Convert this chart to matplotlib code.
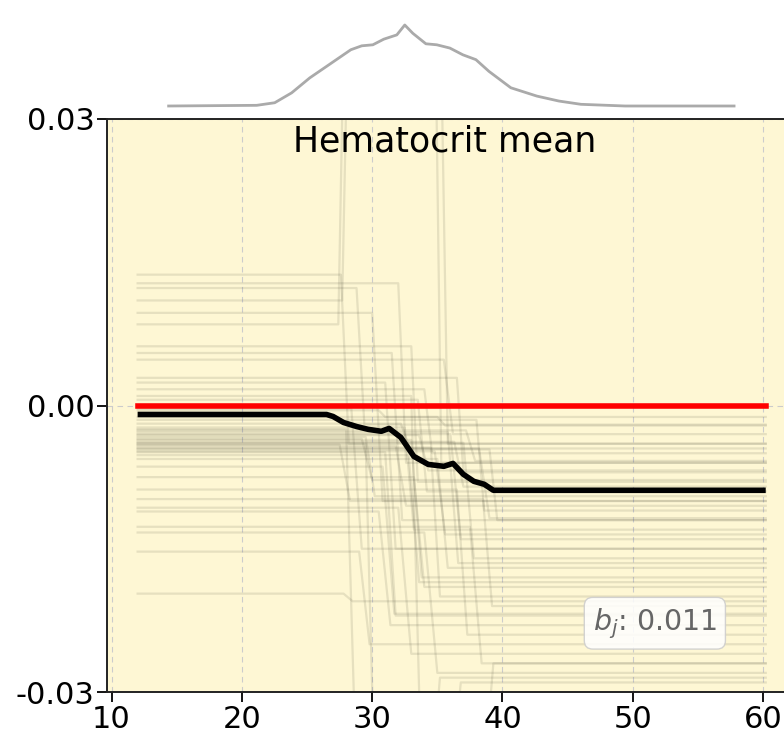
import matplotlib
matplotlib.use("Agg")
import matplotlib.pyplot as plt
import numpy as np

# ---------------- data ----------------
title = "Hematocrit mean"
bj_value = 0.011
x_min_data, x_max_data = 12.0, 60.2

# partial dependence (mean) curve
pdp_x = [12.0, 24.5, 26.5, 27.0, 27.8, 28.8, 29.7, 30.7, 31.3, 32.2, 33.2, 34.3, 35.5, 36.2, 37.0, 37.8, 38.6, 39.3, 60.2]
pdp_y = [-0.00094, -0.00094, -0.00094, -0.00115, -0.00178, -0.0022, -0.0025, -0.0027, -0.0024, -0.00334,
         -0.00533, -0.00617, -0.00637, -0.00606, -0.00721, -0.00794, -0.00825, -0.00888, -0.00888]

# individual conditional expectation curves: level before / after a drop
ice_left = [0.0137, 0.0128, 0.0123, 0.0097, 0.0062, 0.0055, 0.0048, 0.0029, 0.0024, 0.0017, 0.0006,
            -0.0015, -0.0023, -0.0030, -0.0033, -0.0036, -0.0039, -0.0041, -0.0044, -0.0046, -0.0049,
            -0.0056, -0.0075, -0.0088, -0.0098, -0.0107, -0.0111, -0.0127, -0.0133, -0.0153, -0.0197,
            -0.0005, -0.0012, -0.0019, -0.0026, -0.0031, -0.0035, -0.0038, -0.0042, -0.0045, -0.0048,
            -0.0003, -0.0028, -0.0052, -0.0064]
ice_right = [-0.004, -0.006, -0.002, -0.010, -0.008, -0.012, -0.003, -0.007, -0.015, -0.005, -0.009,
             -0.011, -0.013, -0.014, -0.0095, -0.018, -0.016, -0.010, -0.020, -0.012, -0.022,
             -0.017, -0.019, -0.024, -0.021, -0.026, -0.023, -0.027, -0.028, -0.025, -0.0205,
             -0.0012, -0.0021, -0.0045, -0.0058, -0.0068, -0.0078, -0.0085, -0.0105, -0.0118, -0.0135,
             -0.0150, -0.0165, -0.0185, -0.0218]
ice_drop_from = [27.6, 32.0, 28.8, 30.0, 33.0, 31.5, 35.5, 36.5, 31.0, 34.0, 33.5,
                 38.0, 32.5, 36.0, 29.5, 33.0, 37.0, 27.5, 34.5, 39.0, 31.0,
                 35.0, 33.2, 36.5, 38.5, 32.0, 30.5, 37.5, 34.0, 29.0, 27.8,
                 30.5, 35.0, 32.2, 37.2, 33.6, 29.2, 36.3, 31.8, 38.2, 34.8,
                 28.4, 35.8, 32.8, 30.8]
ice_drop_to = [28.2, 32.6, 29.4, 30.8, 33.5, 32.3, 36.2, 37.0, 31.8, 34.6, 34.2,
               38.6, 33.2, 36.8, 30.2, 33.8, 37.8, 28.3, 35.2, 39.6, 31.8,
               35.8, 34.0, 37.3, 39.2, 33.0, 31.4, 38.4, 35.0, 29.8, 28.5,
               31.0, 35.6, 32.9, 37.9, 34.3, 30.0, 37.0, 32.6, 39.0, 35.6,
               29.2, 36.6, 33.6, 31.7]

# ICE curves that leave the plotted range
ice_spike_x = [[12.0, 27.4, 27.9, 34.8, 35.3, 60.2],
               [12.0, 27.7, 28.2, 35.2, 35.8, 60.2],
               [12.0, 29.5, 30.2, 38.5, 39.3, 60.2],
               [12.0, 33.0, 33.8, 36.0, 36.8, 60.2],
               [12.0, 28.0, 28.8, 34.5, 35.2, 60.2]]
ice_spike_y = [[0.0085, 0.0085, 0.045, 0.045, -0.006, -0.006],
               [0.0110, 0.0110, 0.045, 0.045, -0.004, -0.004],
               [-0.004, -0.004, -0.040, -0.040, -0.027, -0.027],
               [0.0010, 0.0010, -0.040, -0.040, -0.029, -0.029],
               [-0.0025, -0.0025, -0.040, -0.040, -0.0285, -0.0285]]

# feature distribution shown above the panel
dens_x = [14.38, 21.14, 22.52, 23.82, 25.21, 26.51, 28.36, 29.20, 30.05, 30.89, 31.89, 32.50, 33.12,
          34.12, 34.96, 35.96, 36.96, 37.96, 38.96, 40.64, 42.64, 44.33, 46.02, 49.40, 57.77]
dens_y = [0.0, 0.0006, 0.0029, 0.0117, 0.0250, 0.0353, 0.0500, 0.0535, 0.0544, 0.0594, 0.0632, 0.0720,
          0.0646, 0.0553, 0.0544, 0.0515, 0.0455, 0.0412, 0.0308, 0.0162, 0.0088, 0.0044, 0.0015, 0.0, 0.0]

x_ticks = [10, 20, 30, 40, 50, 60]
y_ticks = [-0.03, 0.0, 0.03]
y_ticklabels = ["-0.03", "0.00", "0.03"]

# ---------------- figure ----------------
W, H = 784, 734
fig = plt.figure(figsize=(W / 100, H / 100), dpi=100)
fig.patch.set_facecolor("white")

ax_left = 107 / W
ax_bottom = (H - 692) / H
ax_height = (692 - 119) / H
ax_width = 690 / W
ax = fig.add_axes([ax_left, ax_bottom, ax_width, ax_height])
ax.set_facecolor("#fef7d4")

xlim = (9.65, 62.6)
ax.set_xlim(*xlim)
ax.set_ylim(-0.03, 0.03)

ice_color = "#3a3a2a"
for L, R, a, b in zip(ice_left, ice_right, ice_drop_from, ice_drop_to):
    ax.plot([x_min_data, a, b, x_max_data], [L, L, R, R], color=ice_color, alpha=0.12, lw=1.6, zorder=2)
for xs, ys in zip(ice_spike_x, ice_spike_y):
    ax.plot(xs, ys, color=ice_color, alpha=0.12, lw=1.6, zorder=2)

ax.plot([x_min_data, x_max_data], [0, 0], color="red", lw=4, zorder=4)
ax.plot(pdp_x, pdp_y, color="black", lw=4, zorder=5, solid_capstyle="butt")

ax.set_xticks(x_ticks)
ax.set_yticks(y_ticks)
ax.set_yticklabels(y_ticklabels)
ax.tick_params(axis="both", labelsize=22, length=7, width=1.3, colors="black", pad=2)
ax.grid(True, ls=(0, (5, 4)), color="#cccccc", lw=0.8, zorder=0)
for s in ax.spines.values():
    s.set_linewidth(1.4)
    s.set_color("#222222")

ax.text(0.49, 0.96, title, transform=ax.transAxes, ha="center", va="center", fontsize=25, color="black")
ax.text(0.794, 0.12, r"$b_j$: " + f"{bj_value:.3f}", transform=ax.transAxes, ha="center", va="center",
        fontsize=20.5, color="#666666",
        bbox=dict(boxstyle="round,pad=0.3", facecolor="white", edgecolor="#cccccc", alpha=0.85))

# density on top
axd = fig.add_axes([ax_left, (H - 106) / H, ax_width, 81 / H])
axd.set_xlim(*xlim)
axd.set_ylim(0, 0.072)
axd.plot(dens_x, dens_y, color="#aaaaaa", lw=2, clip_on=False)
axd.axis("off")

fig.savefig("out.png", dpi=100)
